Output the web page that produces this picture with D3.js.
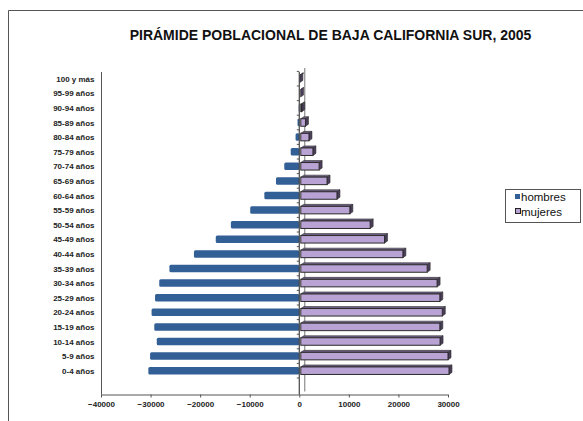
<!DOCTYPE html>
<html><head><meta charset="utf-8">
<script src="https://cdn.jsdelivr.net/npm/d3@7"></script>
<style>body{margin:0;background:#fff}svg{display:block}</style>
</head><body>
<script>
const categories = ["0-4 años","5-9 años","10-14 años","15-19 años","20-24 años","25-29 años","30-34 años","35-39 años","40-44 años","45-49 años","50-54 años","55-59 años","60-64 años","65-69 años","70-74 años","75-79 años","80-84 años","85-89 años","90-94 años","95-99 años","100 y más"];
const hombres = [30450,30100,28750,29250,29800,29100,28250,26200,21250,16850,13800,9900,7050,4700,3030,1730,750,350,120,50,30];
const mujeres = [30200,30000,28400,28350,28850,28350,27800,25800,20900,17200,14300,10200,7600,5600,4000,2750,1950,1250,500,250,120];
const xTicks = [-40000,-30000,-20000,-10000,0,10000,20000,30000];
const title = "PIRÁMIDE POBLACIONAL DE BAJA CALIFORNIA SUR, 2005";
const seriesNames = ["hombres","mujeres"];

(function(){
const W=583,H=421;
const svg=d3.select("body").append("svg").attr("width",W).attr("height",H);
const font="'Liberation Sans', Arial, sans-serif";

// frame
svg.append("path").attr("d","M8.5,421 V10.5 H583").attr("fill","none").attr("stroke","#555").attr("stroke-width",1);

svg.append("text").attr("x",330.5).attr("y",39.5).attr("text-anchor","middle")
  .attr("font-family",font).attr("font-weight","bold").attr("font-size",14).attr("fill","#111").text(title);

const x=d3.scaleLinear().domain([-40000,30000]).range([101,448]);
const y=d3.scalePoint().domain(categories).range([370.7,78.7]);
const bh=7.5, axisY=394.5, plotTop=72;

// left wall line
svg.append("line").attr("x1",101.5).attr("x2",101.5).attr("y1",plotTop).attr("y2",axisY).attr("stroke","#555");
// back zero line
svg.append("line").attr("x1",x(0)+5.5).attr("x2",x(0)+5.5).attr("y1",plotTop-4).attr("y2",axisY-3).attr("stroke","#777");

// male bars
svg.append("g").selectAll("rect").data(categories).join("rect")
  .attr("x",(d,i)=>x(-hombres[i])).attr("y",d=>y(d)-bh/2)
  .attr("width",(d,i)=>x(0)-x(-hombres[i])).attr("height",bh)
  .attr("rx",1.5).attr("fill","#325f96");

// female bars (pseudo 3D)
const g=svg.append("g");
categories.forEach((c,i)=>{
  const x0=x(0)+1.5, x1=x(mujeres[i]), y0=y(c)-bh/2, d=3, dy=2;
  g.append("path").attr("d",`M${x0},${y0} L${x0+d},${y0-dy} L${x1+d},${y0-dy} L${x1},${y0} Z`).attr("fill","#6e5f84").attr("stroke","#333").attr("stroke-width",0.6);
  g.append("path").attr("d",`M${x1},${y0} L${x1+d},${y0-dy} L${x1+d},${y0+bh-dy} L${x1},${y0+bh} Z`).attr("fill","#4a3d5a").attr("stroke","#333").attr("stroke-width",0.6);
  g.append("rect").attr("x",x0).attr("y",y0).attr("width",Math.max(0,x1-x0)).attr("height",bh)
    .attr("fill","#b9a3d4").attr("stroke","#2a2a2a").attr("stroke-width",1);
});

// front zero axis line with category ticks
svg.append("line").attr("x1",x(0)).attr("x2",x(0)).attr("y1",plotTop).attr("y2",axisY).attr("stroke","#444").attr("stroke-width",1.2);
const step=y.step();
svg.append("g").selectAll("line").data(d3.range(categories.length+1)).join("line")
  .attr("x1",x(0)-2.5).attr("x2",x(0)).attr("y1",i=>370.7+step/2-i*step).attr("y2",i=>370.7+step/2-i*step)
  .attr("stroke","#555");

// category labels
svg.append("g").selectAll("text").data(categories).join("text")
  .attr("x",94.5).attr("y",d=>y(d)+3).attr("text-anchor","end")
  .attr("font-family",font).attr("font-weight","bold").attr("font-size",8).attr("fill","#222").text(d=>d);

// x axis
const ax=svg.append("g").attr("transform",`translate(0,${axisY})`)
  .call(d3.axisBottom(x).tickValues(xTicks).tickSize(3).tickPadding(4).tickFormat(d3.format("d")));
ax.select(".domain").attr("stroke","#555").attr("d",`M101,0.5H448`);
ax.selectAll(".tick line").attr("stroke","#555");
ax.selectAll("text").attr("font-family",font).attr("font-weight","bold").attr("font-size",8).attr("fill","#222");

// legend
const lg=svg.append("g");
lg.append("rect").attr("x",505.5).attr("y",189.5).attr("width",75).attr("height",33).attr("fill","#fff").attr("stroke","#555");
lg.append("rect").attr("x",515).attr("y",194).attr("width",5).attr("height",5).attr("fill","#325f96");
lg.append("rect").attr("x",515.5).attr("y",208.5).attr("width",5).attr("height",5).attr("fill","#b9a3d4").attr("stroke","#222");
lg.selectAll("text").data(seriesNames).join("text")
  .attr("x",521).attr("y",(d,i)=>200.5+i*15).attr("font-family",font).attr("font-size",11.5).attr("fill","#111").text(d=>d);
})();
</script>
</body></html>
